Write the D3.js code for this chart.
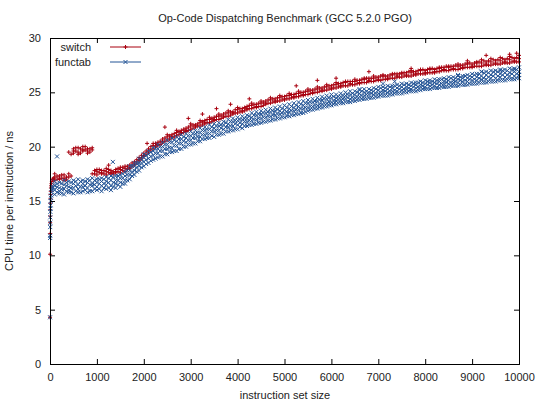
<!DOCTYPE html>
<html>
<head>
<meta charset="utf-8">
<script src="https://cdn.jsdelivr.net/npm/d3@7"></script>
<style>
  body { margin: 0; background: #fff; }
  text { font-family: "Liberation Sans", Arial, sans-serif; fill: #222; }
</style>
</head>
<body>
<div id="chart"></div>
<script>
// Op-Code dispatching benchmark

const xTicks = [0, 1000, 2000, 3000, 4000, 5000, 6000, 7000, 8000, 9000, 10000];
const yTicks = [0, 5, 10, 15, 20, 25, 30];

// very small instruction sets
const smallSizes = [1, 2, 3, 4, 5, 6, 8, 10, 12, 16, 20, 25, 32, 40, 50, 64, 80];
const switchSmall = [4.3, 10.1, 12.0, 13.0, 13.6, 14.2, 14.8, 15.2, 15.6, 15.9, 16.2, 16.4, 16.6, 16.8, 17.0, 17.0, 17.1];
const functabSmall = [4.3, 11.6, 11.8, 12.6, 13.0, 13.5, 14.0, 14.3, 14.6, 15.0, 15.3, 15.5, 15.8, 16.0, 16.2, 16.3, 16.5];

// instruction set sizes 100..10000
const sizes = [100, 200, 300, 400, 500, 600, 700, 800, 900, 1000,
  1100, 1200, 1300, 1400, 1500, 1600, 1700, 1800, 1900, 2000,
  2100, 2200, 2300, 2400, 2500, 2600, 2700, 2800, 2900, 3000,
  3100, 3200, 3300, 3400, 3500, 3600, 3700, 3800, 3900, 4000,
  4100, 4200, 4300, 4400, 4500, 4600, 4700, 4800, 4900, 5000,
  5100, 5200, 5300, 5400, 5500, 5600, 5700, 5800, 5900, 6000,
  6100, 6200, 6300, 6400, 6500, 6600, 6700, 6800, 6900, 7000,
  7100, 7200, 7300, 7400, 7500, 7600, 7700, 7800, 7900, 8000,
  8100, 8200, 8300, 8400, 8500, 8600, 8700, 8800, 8900, 9000,
  9100, 9200, 9300, 9400, 9500, 9600, 9700, 9800, 9900, 10000];

// three runs per size (switch)
const switchTimes = [
  [16.9, 17.2, 17.5], [17.0, 17.3, 17.1], [17.1, 17.4, 16.9], [17.2, 17.5, 19.5], [19.4, 19.8, 19.6],
  [19.5, 19.9, 19.3], [19.6, 20.0, 19.7], [19.4, 19.8, 19.6], [17.5, 19.7, 19.9], [17.4, 17.7, 17.9],
  [17.5, 17.8, 17.6], [17.4, 17.7, 18.0], [17.5, 17.8, 17.6], [17.6, 17.9, 17.7], [17.6, 17.9, 18.1],
  [17.7, 18.0, 18.2], [18.0, 18.3, 18.1], [18.3, 18.6, 18.4], [18.7, 19.0, 18.8], [19.1, 19.4, 19.2],
  [19.5, 19.8, 19.6], [19.8, 20.1, 20.3], [20.1, 20.4, 20.2], [20.4, 20.7, 20.5], [20.6, 20.9, 21.1],
  [20.8, 21.1, 20.9], [21.0, 21.3, 21.5], [21.2, 21.5, 21.3], [21.4, 21.7, 21.5], [21.6, 21.9, 22.1],
  [21.8, 22.0, 21.9], [21.9, 22.2, 22.4], [22.1, 22.4, 22.2], [22.2, 22.5, 22.7], [22.4, 22.7, 22.5],
  [22.5, 22.8, 23.0], [22.7, 23.0, 22.8], [22.8, 23.1, 23.3], [23.0, 23.2, 23.1], [23.1, 23.4, 23.6],
  [23.2, 23.5, 23.3], [23.4, 23.7, 23.5], [23.5, 23.8, 24.0], [23.6, 23.9, 23.7], [23.7, 24.0, 24.2],
  [23.9, 24.2, 24.0], [24.0, 24.3, 24.5], [24.1, 24.4, 24.2], [24.2, 24.5, 24.7], [24.3, 24.6, 24.4],
  [24.4, 24.7, 24.9], [24.5, 24.8, 24.6], [24.6, 24.9, 25.1], [24.7, 25.0, 24.8], [24.8, 25.1, 25.3],
  [24.9, 25.2, 25.0], [25.0, 25.3, 25.5], [25.1, 25.4, 25.2], [25.2, 25.5, 25.7], [25.3, 25.6, 25.4],
  [25.4, 25.7, 25.9], [25.5, 25.8, 25.6], [25.6, 25.9, 26.0], [25.7, 26.0, 25.8], [25.7, 26.0, 26.2],
  [25.8, 26.1, 25.9], [25.9, 26.2, 26.3], [26.0, 26.3, 26.1], [26.0, 26.3, 26.5], [26.1, 26.4, 26.2],
  [26.2, 26.5, 26.6], [26.2, 26.5, 26.3], [26.3, 26.6, 26.7], [26.4, 26.7, 26.5], [26.4, 26.7, 26.8],
  [26.5, 26.8, 26.6], [26.5, 26.8, 27.0], [26.6, 26.9, 26.7], [26.7, 27.0, 27.1], [26.7, 27.0, 26.8],
  [26.8, 27.1, 27.2], [26.8, 27.1, 26.9], [26.9, 27.2, 27.3], [27.0, 27.3, 27.1], [27.0, 27.3, 27.4],
  [27.1, 27.4, 27.2], [27.1, 27.4, 27.6], [27.2, 27.5, 27.3], [27.3, 27.6, 27.7], [27.3, 27.6, 27.4],
  [27.4, 27.7, 27.8], [27.4, 27.7, 28.0], [27.5, 27.8, 27.6], [27.5, 27.8, 28.1], [27.6, 27.9, 27.7],
  [27.6, 27.9, 28.2], [27.7, 28.0, 27.8], [27.7, 28.0, 28.3], [27.8, 28.1, 27.9], [27.8, 28.1, 28.4]
];

// four runs per size (functab)
const functabTimes = [
  [15.6, 16.0, 16.4, 16.8], [15.7, 16.2, 15.9, 16.7], [15.6, 16.1, 16.5, 16.9], [15.8, 16.3, 16.0, 16.8], [15.7, 16.2, 16.6, 16.9],
  [15.8, 16.1, 16.5, 17.0], [15.9, 16.3, 16.6, 16.9], [15.8, 16.2, 16.7, 17.0], [15.9, 16.4, 16.6, 17.1], [16.0, 16.3, 16.7, 17.0],
  [15.9, 16.4, 16.8, 17.1], [16.1, 16.5, 16.8, 17.2], [16.0, 16.4, 16.9, 17.3], [16.2, 16.6, 16.9, 17.3], [16.3, 16.7, 17.1, 17.4],
  [16.6, 16.9, 17.3, 17.7], [17.0, 17.4, 17.8, 18.2], [17.4, 17.8, 18.2, 18.5], [17.8, 18.2, 18.5, 18.9], [18.2, 18.6, 19.0, 19.3],
  [18.5, 18.9, 19.3, 19.6], [18.8, 19.2, 19.6, 19.9], [19.0, 19.4, 19.8, 20.2], [19.1, 19.6, 20.0, 20.4], [19.3, 19.8, 20.2, 20.6],
  [19.5, 19.9, 20.4, 20.8], [19.6, 20.1, 20.5, 20.9], [19.8, 20.3, 20.7, 21.1], [20.0, 20.4, 20.8, 21.2], [20.2, 20.6, 21.0, 21.4],
  [20.3, 20.8, 21.2, 21.5], [20.5, 20.9, 21.3, 21.7], [20.7, 21.1, 21.5, 21.8], [20.8, 21.2, 21.6, 22.0], [20.9, 21.4, 21.7, 22.1],
  [21.1, 21.5, 21.9, 22.2], [21.2, 21.6, 22.0, 22.3], [21.4, 21.8, 22.1, 22.5], [21.5, 21.9, 22.3, 22.6], [21.6, 22.0, 22.4, 22.7],
  [21.7, 22.1, 22.5, 22.8], [21.9, 22.3, 22.6, 22.9], [22.0, 22.4, 22.7, 23.1], [22.1, 22.5, 22.9, 23.2], [22.2, 22.6, 23.0, 23.3],
  [22.3, 22.7, 23.1, 23.4], [22.4, 22.8, 23.2, 23.5], [22.5, 22.9, 23.3, 23.6], [22.6, 23.0, 23.3, 23.7], [22.7, 23.1, 23.4, 23.8],
  [22.8, 23.2, 23.5, 23.9], [22.9, 23.3, 23.6, 24.0], [23.0, 23.4, 23.7, 24.1], [23.1, 23.5, 23.8, 24.2], [23.3, 23.6, 24.0, 24.3],
  [23.4, 23.7, 24.1, 24.4], [23.5, 23.8, 24.2, 24.5], [23.6, 23.9, 24.3, 24.6], [23.7, 24.0, 24.4, 24.7], [23.8, 24.1, 24.5, 24.8],
  [23.9, 24.2, 24.5, 24.8], [24.0, 24.3, 24.6, 24.9], [24.1, 24.4, 24.7, 25.0], [24.1, 24.4, 24.8, 25.1], [24.2, 24.5, 24.8, 25.1],
  [24.3, 24.6, 24.9, 25.2], [24.4, 24.7, 25.0, 25.3], [24.5, 24.8, 25.0, 25.3], [24.5, 24.8, 25.1, 25.4], [24.6, 24.9, 25.2, 25.5],
  [24.7, 25.0, 25.2, 25.5], [24.7, 25.0, 25.3, 25.6], [24.8, 25.1, 25.4, 25.6], [24.9, 25.1, 25.4, 25.7], [24.9, 25.2, 25.5, 25.8],
  [25.0, 25.3, 25.5, 25.8], [25.1, 25.3, 25.6, 25.9], [25.1, 25.4, 25.7, 25.9], [25.2, 25.5, 25.7, 26.0], [25.3, 25.5, 25.8, 26.1],
  [25.3, 25.6, 25.9, 26.1], [25.4, 25.6, 25.9, 26.2], [25.4, 25.7, 26.0, 26.2], [25.5, 25.8, 26.0, 26.3], [25.5, 25.8, 26.1, 26.4],
  [25.6, 25.9, 26.1, 26.4], [25.6, 25.9, 26.2, 26.5], [25.7, 26.0, 26.3, 26.5], [25.7, 26.0, 26.3, 26.6], [25.8, 26.1, 26.4, 26.7],
  [25.8, 26.1, 26.4, 26.7], [25.9, 26.2, 26.5, 26.9], [25.9, 26.2, 26.6, 26.9], [26.0, 26.3, 26.6, 27.0], [26.0, 26.3, 26.7, 27.0],
  [26.1, 26.4, 26.7, 27.1], [26.1, 26.4, 26.8, 27.1], [26.2, 26.5, 26.8, 27.2], [26.2, 26.5, 26.9, 27.2], [26.3, 26.6, 26.9, 27.3]
];

// in-between sizes 150..9950
const halfSizes = [150, 250, 350, 450, 550, 650, 750, 850, 950,
  1050, 1150, 1250, 1350, 1450, 1550, 1650, 1750, 1850, 1950,
  2050, 2150, 2250, 2350, 2450, 2550, 2650, 2750, 2850, 2950,
  3050, 3150, 3250, 3350, 3450, 3550, 3650, 3750, 3850, 3950,
  4050, 4150, 4250, 4350, 4450, 4550, 4650, 4750, 4850, 4950,
  5050, 5150, 5250, 5350, 5450, 5550, 5650, 5750, 5850, 5950,
  6050, 6150, 6250, 6350, 6450, 6550, 6650, 6750, 6850, 6950,
  7050, 7150, 7250, 7350, 7450, 7550, 7650, 7750, 7850, 7950,
  8050, 8150, 8250, 8350, 8450, 8550, 8650, 8750, 8850, 8950,
  9050, 9150, 9250, 9350, 9450, 9550, 9650, 9750, 9850, 9950];

const switchTimesHalf = [
  [17.0, 17.3], [17.1, 17.4], [17.2, 17.0], [19.3, 17.3], [19.6, 19.9], [19.4, 19.8], [19.7, 20.0], [19.5, 19.8], [17.5, 17.8],
  [17.6, 17.9], [17.5, 17.8], [17.6, 17.9], [17.7, 17.5], [17.7, 18.0], [17.8, 18.1], [17.9, 18.2], [18.2, 18.5], [18.5, 18.8], [18.9, 19.2],
  [19.3, 19.6], [19.7, 20.0], [20.0, 20.3], [20.2, 20.5], [20.5, 20.8], [20.7, 21.0], [20.9, 21.2], [21.1, 21.4], [21.3, 21.6], [21.5, 21.8],
  [21.7, 22.0], [21.9, 22.1], [22.0, 22.3], [22.2, 22.5], [22.3, 22.6], [22.5, 22.8], [22.6, 22.9], [22.8, 23.1], [22.9, 23.2], [23.1, 23.4],
  [23.2, 23.5], [23.3, 23.6], [23.5, 23.8], [23.6, 23.9], [23.7, 24.0], [23.8, 24.1], [24.0, 24.3], [24.1, 24.4], [24.2, 24.5], [24.3, 24.6],
  [24.4, 24.7], [24.5, 24.8], [24.6, 24.9], [24.7, 25.0], [24.8, 25.1], [24.9, 25.2], [25.0, 25.3], [25.1, 25.4], [25.2, 25.5], [25.3, 25.6],
  [25.4, 25.7], [25.5, 25.8], [25.6, 25.9], [25.6, 26.0], [25.7, 26.0], [25.8, 26.1], [25.9, 26.2], [25.9, 26.3], [26.0, 26.3], [26.1, 26.4],
  [26.1, 26.5], [26.2, 26.5], [26.3, 26.6], [26.3, 26.7], [26.4, 26.7], [26.5, 26.8], [26.5, 26.9], [26.6, 26.9], [26.7, 27.0], [26.7, 27.1],
  [26.8, 27.1], [26.8, 27.2], [26.9, 27.2], [27.0, 27.3], [27.0, 27.4], [27.1, 27.4], [27.1, 27.5], [27.2, 27.5], [27.3, 27.6], [27.3, 27.7],
  [27.4, 27.7], [27.4, 27.8], [27.5, 27.9], [27.5, 27.9], [27.6, 28.0], [27.6, 28.0], [27.7, 28.1], [27.7, 28.1], [27.8, 28.2], [27.8, 28.2]
];

const functabTimesHalf = [
  [15.8, 16.3, 16.6], [15.7, 16.1, 16.6], [15.9, 16.4, 16.7], [15.8, 16.2, 16.7], [15.9, 16.4, 16.8], [15.8, 16.3, 16.8], [16.0, 16.4, 16.8], [15.9, 16.5, 16.9], [16.1, 16.5, 16.9],
  [16.1, 16.6, 17.0], [16.2, 16.6, 17.0], [16.2, 16.7, 17.1], [16.3, 16.7, 17.2], [16.5, 16.9, 17.3], [16.6, 17.1, 17.5], [16.9, 17.4, 17.8], [17.3, 17.7, 18.2], [17.7, 18.1, 18.5], [18.1, 18.5, 18.9],
  [18.4, 18.8, 19.2], [18.7, 19.1, 19.5], [18.9, 19.4, 19.8], [19.1, 19.6, 20.0], [19.3, 19.8, 20.2], [19.5, 19.9, 20.4], [19.6, 20.1, 20.6], [19.8, 20.3, 20.7], [20.0, 20.5, 20.9], [20.2, 20.6, 21.0],
  [20.3, 20.8, 21.2], [20.5, 20.9, 21.3], [20.7, 21.1, 21.5], [20.8, 21.2, 21.6], [21.0, 21.4, 21.8], [21.1, 21.5, 21.9], [21.2, 21.7, 22.0], [21.4, 21.8, 22.2], [21.5, 21.9, 22.3], [21.6, 22.1, 22.4],
  [21.8, 22.2, 22.5], [21.9, 22.3, 22.6], [22.0, 22.4, 22.8], [22.1, 22.5, 22.9], [22.2, 22.6, 23.0], [22.3, 22.7, 23.1], [22.4, 22.8, 23.2], [22.5, 22.9, 23.3], [22.6, 23.0, 23.4], [22.7, 23.1, 23.5],
  [22.8, 23.2, 23.6], [22.9, 23.3, 23.7], [23.0, 23.4, 23.8], [23.1, 23.5, 23.9], [23.2, 23.6, 24.0], [23.4, 23.7, 24.1], [23.5, 23.8, 24.2], [23.6, 23.9, 24.3], [23.7, 24.0, 24.4], [23.8, 24.1, 24.5],
  [23.9, 24.2, 24.6], [24.0, 24.3, 24.6], [24.0, 24.4, 24.7], [24.1, 24.5, 24.8], [24.2, 24.5, 24.9], [24.3, 24.6, 25.0], [24.4, 24.7, 25.1], [24.4, 24.8, 25.1], [24.5, 24.9, 25.2], [24.6, 24.9, 25.3],
  [24.7, 25.0, 25.4], [24.7, 25.1, 25.4], [24.8, 25.1, 25.5], [24.9, 25.2, 25.6], [24.9, 25.3, 25.6], [25.0, 25.3, 25.7], [25.1, 25.4, 25.7], [25.1, 25.5, 25.8], [25.2, 25.5, 25.9], [25.3, 25.6, 25.9],
  [25.3, 25.7, 26.0], [25.4, 25.7, 26.0], [25.4, 25.8, 26.1], [25.5, 25.8, 26.2], [25.5, 25.9, 26.2], [25.6, 25.9, 26.3], [25.6, 26.0, 26.3], [25.7, 26.1, 26.4], [25.7, 26.1, 26.5], [25.8, 26.2, 26.5],
  [25.8, 26.2, 26.6], [25.9, 26.3, 26.7], [25.9, 26.3, 26.8], [26.0, 26.4, 26.8], [26.0, 26.5, 26.9], [26.1, 26.5, 26.9], [26.1, 26.6, 27.0], [26.2, 26.6, 27.0], [26.2, 26.7, 27.1], [26.3, 26.7, 27.1]
];

// stray measurements
const switchStrayX = [1250, 2070, 2450, 2950, 3250, 3550, 3850, 4250, 5250, 5700, 6100, 6800, 7700, 8900, 9300, 9800, 9950];
const switchStrayY = [18.3, 20.3, 21.8, 22.6, 23.0, 23.5, 23.9, 24.4, 25.6, 26.1, 26.3, 26.9, 27.2, 27.9, 28.4, 28.5, 28.6];
const functabStrayX = [150, 1340, 6600, 7100, 7350, 8700, 9200, 9600, 9900];
const functabStrayY = [19.1, 18.6, 25.3, 25.8, 26.0, 26.6, 26.9, 27.0, 27.1];

const colors = { "switch": "#a8000f", "functab": "#235496" };

function drawChart() {
    const W = 540, H = 405;
    const plot = { left: 50, right: 519, top: 38, bottom: 364 };

    const svg = d3.select("#chart").append("svg")
        .attr("width", W)
        .attr("height", H);

    const x = d3.scaleLinear().domain([0, 10000]).range([plot.left, plot.right]);
    const y = d3.scaleLinear().domain([0, 30]).range([plot.bottom, plot.top]);

    // build point lists from the arrays
    const switchPts = [], functabPts = [];
    smallSizes.forEach((s, i) => {
        switchPts.push([s, switchSmall[i]]);
        functabPts.push([s, functabSmall[i]]);
    });
    sizes.forEach((s, i) => {
        switchTimes[i].forEach(v => switchPts.push([s, v]));
        functabTimes[i].forEach(v => functabPts.push([s, v]));
    });
    halfSizes.forEach((s, i) => {
        switchTimesHalf[i].forEach(v => switchPts.push([s, v]));
        functabTimesHalf[i].forEach(v => functabPts.push([s, v]));
    });
    switchStrayX.forEach((s, i) => switchPts.push([s, switchStrayY[i]]));
    functabStrayX.forEach((s, i) => functabPts.push([s, functabStrayY[i]]));

    const r = 2;
    const plusPath = `M${-r},0H${r}M0,${-r}V${r}`;
    const crossPath = `M${-r},${-r}L${r},${r}M${-r},${r}L${r},${-r}`;

    // points: switch first, functab on top
    svg.append("g").selectAll("path")
        .data(switchPts)
        .enter()
        .append("path")
        .attr("transform", d => `translate(${x(d[0])},${y(d[1])})`)
        .attr("d", plusPath)
        .attr("stroke", colors["switch"])
        .attr("stroke-width", 1)
        .attr("fill", "none");

    svg.append("g").selectAll("path")
        .data(functabPts)
        .enter()
        .append("path")
        .attr("transform", d => `translate(${x(d[0])},${y(d[1])})`)
        .attr("d", crossPath)
        .attr("stroke", colors["functab"])
        .attr("stroke-width", 1)
        .attr("fill", "none");

    // axes, ticks inward, mirrored like gnuplot
    const tickLen = 5;
    const bottomAxis = svg.append("g")
        .attr("transform", `translate(0,${plot.bottom})`)
        .call(d3.axisBottom(x).tickValues(xTicks).tickSize(-tickLen).tickPadding(9).tickFormat(d3.format("d")));
    const topAxis = svg.append("g")
        .attr("transform", `translate(0,${plot.top})`)
        .call(d3.axisTop(x).tickValues(xTicks).tickSize(-tickLen).tickFormat(""));
    const leftAxis = svg.append("g")
        .attr("transform", `translate(${plot.left},0)`)
        .call(d3.axisLeft(y).tickValues(yTicks).tickSize(-tickLen).tickPadding(9));
    const rightAxis = svg.append("g")
        .attr("transform", `translate(${plot.right},0)`)
        .call(d3.axisRight(y).tickValues(yTicks).tickSize(-tickLen).tickFormat(""));

    [bottomAxis, topAxis, leftAxis, rightAxis].forEach(g => {
        g.select(".domain").attr("stroke", "#000").attr("stroke-width", 1);
        g.selectAll(".tick line").attr("stroke", "#000");
        g.selectAll("text")
            .style("font-family", "'Liberation Sans', Arial, sans-serif")
            .style("font-size", "11px")
            .attr("fill", "#222");
    });

    // title and axis labels
    svg.append("text")
        .attr("x", 285)
        .attr("y", 22)
        .attr("text-anchor", "middle")
        .style("font-size", "11px")
        .text("Op-Code Dispatching Benchmark (GCC 5.2.0 PGO)");

    svg.append("text")
        .attr("x", 285)
        .attr("y", 399)
        .attr("text-anchor", "middle")
        .style("font-size", "11px")
        .text("instruction set size");

    svg.append("text")
        .attr("transform", "rotate(-90)")
        .attr("x", -(plot.top + plot.bottom) / 2)
        .attr("y", 13)
        .attr("text-anchor", "middle")
        .style("font-size", "11px")
        .text("CPU time per instruction / ns");

    // legend
    const legend = svg.append("g");
    const keys = [["switch", plusPath, 47], ["functab", crossPath, 62]];
    keys.forEach(k => {
        legend.append("text")
            .attr("x", 91)
            .attr("y", k[2] + 4)
            .attr("text-anchor", "end")
            .style("font-size", "11px")
            .text(k[0]);
        legend.append("line")
            .attr("x1", 110).attr("x2", 141)
            .attr("y1", k[2]).attr("y2", k[2])
            .attr("stroke", colors[k[0]])
            .attr("stroke-width", 1);
        legend.append("path")
            .attr("transform", `translate(125.5,${k[2]})`)
            .attr("d", k[1])
            .attr("stroke", colors[k[0]])
            .attr("fill", "none");
    });
}

document.addEventListener("DOMContentLoaded", drawChart);
</script>
</body>
</html>
